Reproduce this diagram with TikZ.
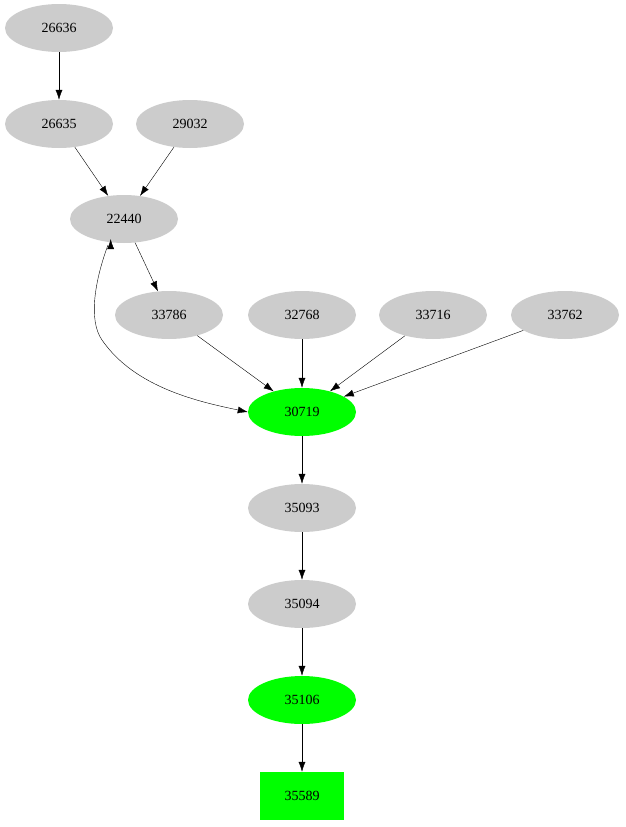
\documentclass[tikz,border=0pt]{standalone}
\usepackage{fontspec}
\setmainfont{Liberation Serif}
\usetikzlibrary{shapes.geometric,arrows.meta}
\begin{document}
\begin{tikzpicture}[x=1pt,y=-1pt,
  gn/.style={ellipse,fill=lightgray!80,minimum width=108pt,minimum height=48pt,inner sep=0pt,font=\fontsize{14}{16}\selectfont},
  hn/.style={gn,fill=green},
  bn/.style={rectangle,fill=green,minimum width=84pt,minimum height=48pt,inner sep=0pt,font=\fontsize{14}{16}\selectfont},
  ar/.style={-{Latex[length=10pt,width=7pt]},black}]
\useasboundingbox (0,0) rectangle (625,827);
\node[gn] (a) at (59,28) {26636};
\node[gn] (b) at (59,124) {26635};
\node[gn] (c) at (190,124) {29032};
\node[gn] (d) at (124,219) {22440};
\node[gn] (e) at (169,315) {33786};
\node[gn] (f) at (302,315) {32768};
\node[gn] (g) at (433,315) {33716};
\node[gn] (h) at (565,315) {33762};
\node[hn] (i) at (302,412) {30719};
\node[gn] (j) at (302,508) {35093};
\node[gn] (k) at (302,604) {35094};
\node[hn] (l) at (302,700) {35106};
\node[bn] (m) at (302,796) {35589};
\draw[ar] (a) -- (b);
\draw[ar] (b) -- (d);
\draw[ar] (c) -- (d);
\draw[ar] (d) -- (e);
\draw[ar] (d.south west) ++(25,3) coordinate (ds);
\draw[ar] (108,245) .. controls (95,280) and (88,320) .. (102,340) .. controls (135,388) and (200,402) .. (i.west);
\draw[ar] (e) -- (i);
\draw[ar] (f) -- (i);
\draw[ar] (g) -- (i);
\draw[ar] (h) -- (i);
\draw[ar] (i) -- (j);
\draw[ar] (j) -- (k);
\draw[ar] (k) -- (l);
\draw[ar] (l) -- (m);
\end{tikzpicture}
\end{document}
